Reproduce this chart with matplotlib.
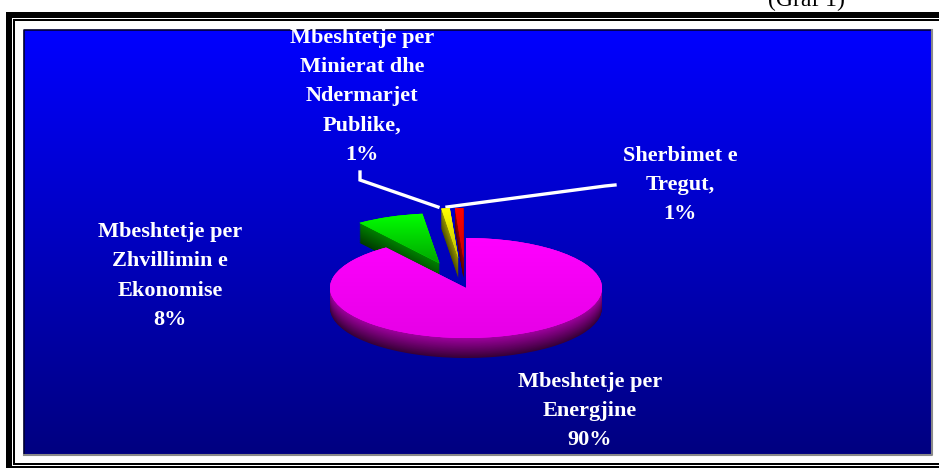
import numpy as np
import matplotlib
matplotlib.use("Agg")
import matplotlib.pyplot as plt
from matplotlib.patches import Rectangle

# data
labels = ["Sherbimet e\nTregut,",
          "Mbeshtetje per\nMinierat dhe\nNdermarjet\nPublike,",
          "Mbeshtetje per\nZhvillimin e\nEkonomise",
          "Mbeshtetje per\nEnergjine"]
values = [1, 1, 8, 90]
explode = [0.6, 0.6, 0.53, 0.0]

# styles: top face (light, dark) and side (top, bottom) colours per slice
top_cols = [((255, 0, 0), (200, 0, 0)),
            ((255, 255, 0), (190, 190, 0)),
            ((0, 255, 0), (0, 165, 0)),
            ((255, 0, 255), (230, 0, 230))]
side_cols = [((150, 0, 0), (80, 0, 0)),
             ((150, 150, 0), (80, 80, 0)),
             ((0, 130, 0), (0, 60, 0)),
             ((160, 0, 160), (55, 0, 55))]

W, H = 939, 468
fig = plt.figure(figsize=(W / 100, H / 100), dpi=100)
bg = fig.add_axes([0, 0, 1, 1])
bg.set_xlim(0, W)
bg.set_ylim(H, 0)
bg.axis("off")

# frame
for x, y, w, h in [(6, 12, 940, 6), (6, 12, 6, 470), (6, 466, 940, 6),
                   (13, 19, 930, 2), (13, 19, 2, 446), (13, 463, 930, 2)]:
    bg.add_patch(Rectangle((x, y), w, h, color="black", lw=0))

# blue panel
px0, px1, py0, py1 = 24, 932, 30, 455
grad = np.linspace(0, 1, 256)[:, None]
panel = np.zeros((256, 2, 3))
panel[..., 2] = (255 - 127 * grad) / 255
bg.imshow(panel, extent=(px0, px1, py1, py0), aspect="auto", zorder=1)
bg.plot([px0, px0, px1], [py1, py0, py0], color="#000033", lw=1.2, zorder=2)
bg.plot([px0, px1, px1], [py1, py1, py0], color="#8a8a8a", lw=1.5, zorder=2)
bg.set_xlim(0, W)
bg.set_ylim(H, 0)

bg.text(806, 6, "(Graf 1)", family="Liberation Serif", fontsize=17,
        ha="center", va="baseline", color="black")

# pie axes (ellipse in pixels)
cx, cy, rx, ry, depth = 466, 288, 136, 50, 20
pax = fig.add_axes([(cx - 2 * rx) / W, (H - (cy + 2 * ry)) / H, 4 * rx / W, 4 * ry / H])
pax.axis("off")
d = depth / ry


def mix(a, b, t):
    return tuple((np.array(a) + (np.array(b) - np.array(a)) * t) / 255)


n = 30
for i in range(n):
    t = i / (n - 1)
    off = -d * (1 - t)
    cols = [mix(s[1], s[0], t) for s in side_cols]
    pax.pie(values, explode=explode, startangle=90, colors=cols,
            center=(0, off), wedgeprops=dict(linewidth=0))

wedges, _ = pax.pie(values, explode=explode, startangle=90,
                    colors=[mix(c[0], c[0], 0) for c in top_cols],
                    wedgeprops=dict(linewidth=0))

for w, (c_hi, c_lo) in zip(wedges, top_cols):
    wx, wy = w.center
    th = np.radians(np.linspace(w.theta1, w.theta2, 50))
    ys = np.concatenate([[wy], wy + w.r * np.sin(th)])
    ytop, ybot = ys.max(), ys.min()
    yy = np.linspace(2, -2, 300)
    f = np.clip((ytop - yy) / max(ytop - ybot, 1e-6), 0, 1)
    img = np.array([mix(c_hi, c_lo, v) for v in f])[:, None, :]
    img = np.repeat(img, 2, axis=1)
    im = pax.imshow(img, extent=(-2, 2, -2, 2), aspect="auto", zorder=3)
    im.set_clip_path(w)

pax.set_xlim(-2, 2)
pax.set_ylim(-2, 2)
pax.set_aspect("auto")

# labels
total = sum(values)
pos = [(680, 185), (362, 96.5), (170, 276), (590, 411)]
for lab, v, (x, y) in zip(labels, values, pos):
    bg.text(x, y, f"{lab}\n{v / total * 100:.0f}%", family="Liberation Serif",
            fontweight="bold", fontsize=16, color="white", ha="center",
            va="center", linespacing=1.62, zorder=5)

# leader lines
bg.plot([360, 360, 438], [172, 180, 207], color="white", lw=2.4,
        solid_joinstyle="miter", zorder=5)
bg.plot([447, 605, 615], [207, 186, 185], color="white", lw=2.4, zorder=5)

fig.savefig("out.png", dpi=100)
